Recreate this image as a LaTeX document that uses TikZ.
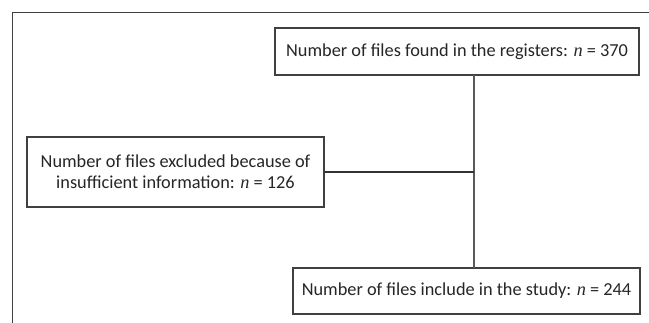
\documentclass[tikz,border=0pt]{standalone}
\usepackage{fontspec}
\setmainfont{Carlito}
\newfontfamily\nfont{Liberation Serif}
\newcommand{\nvar}{{\nfont\itshape n}}
\tikzset{
  caja/.style={draw=black!75, line width=1.1pt, fill=white, align=center, inner sep=2pt, outer sep=0pt,
    font=\fontsize{18.3}{21}\selectfont, text=black!85},
  linea/.style={draw=black!65, line width=1.4pt}
}
\begin{document}
\begin{tikzpicture}[x=1pt,y=-1pt]
\useasboundingbox (0,0) rectangle (649,323);
\draw[black!75, line width=1pt] (649,13) -- (12,13) -- (12,323);

\node[caja, minimum width=364pt, minimum height=47pt] (found) at (457,51.5)
  {Number of files found in the registers: \nvar{} = 370};
\node[caja, minimum width=297pt, minimum height=70pt] (excl) at (175.5,172)
  {Number of files excluded because of\\insufficient information: \nvar{} = 126};
\node[caja, minimum width=347pt, minimum height=46pt] (incl) at (466.5,291)
  {Number of files include in the study: \nvar{} = 244};

\coordinate (junc) at (474,172);
\draw[linea] (found.south -| junc) -- (incl.north -| junc);
\draw[linea, line width=1.1pt, draw=black!80] (excl.east) -- (junc);
\end{tikzpicture}
\end{document}
